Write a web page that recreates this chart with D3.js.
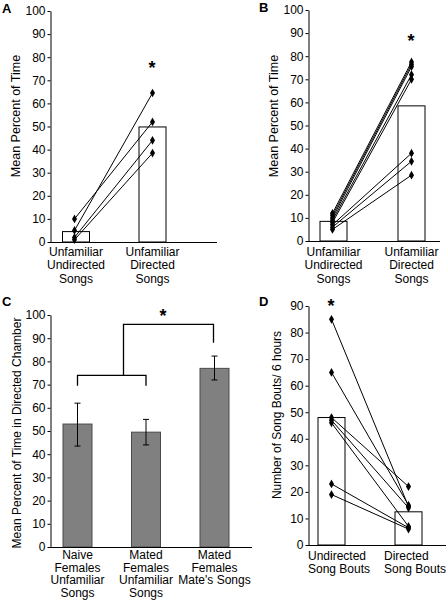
<!DOCTYPE html>
<html><head><meta charset="utf-8">
<script src="https://cdn.jsdelivr.net/npm/d3@7"></script>
<style>body{margin:0;background:#fff} svg{display:block} text{font-family:"Liberation Sans",Arial,sans-serif;fill:#000}</style>
</head><body><svg id="c" width="446" height="601"></svg>
<script>
// ---- Panel A ----
const catsA = ["Unfamiliar\nUndirected\nSongs", "Unfamiliar\nDirected\nSongs"];
const barsA = [4.5, 49.8];
const undirA = [10, 5, 2, 1];
const dirA = [52, 64.5, 44, 38.5];
// ---- Panel B ----
const catsB = ["Unfamiliar\nUndirected\nSongs", "Unfamiliar\nDirected\nSongs"];
const barsB = [8.5, 58.5];
const undirB = [12, 11, 10, 9, 8, 7, 6, 5];
const dirB = [77.5, 76.5, 75.5, 72, 70, 38, 34.5, 28.5];
// ---- Panel C ----
const catsC = ["Naive\nFemales\nUnfamiliar\nSongs", "Mated\nFemales\nUnfamiliar\nSongs", "Mated\nFemales\nMate's Songs"];
const meansC = [53, 49.5, 77];
const lowC = [43.5, 44, 72];
const highC = [62, 55, 82.3];
// ---- Panel D ----
const catsD = ["Undirected\nSong Bouts", "Directed\nSong Bouts"];
const barsD = [48, 12.5];
const undirD = [85, 65, 48, 47, 46, 23, 19];
const dirD = [14.5, 15, 22, 14, 7, 6.5, 6];
// ---- ticks ----
const ticks100 = [0, 10, 20, 30, 40, 50, 60, 70, 80, 90, 100];
const ticks90 = [0, 10, 20, 30, 40, 50, 60, 70, 80, 90];
const titleAB = "Mean Percent of Time";
const titleC = "Mean Percent of Time in Directed Chamber";
const titleD = "Number of Song Bouts/ 6 hours";

const svg = d3.select("#c");
const FONT = 12;

function panel(cfg) {
  const g = svg.append("g");
  const y = d3.scaleLinear().domain(cfg.ydom).range(cfg.yr);
  const x = d3.scalePoint().domain(cfg.cats).range(cfg.xr);
  // bars
  g.selectAll("rect.bar").data(cfg.bars).join("rect")
    .attr("x", (d, i) => x(cfg.cats[i]) - cfg.bw / 2)
    .attr("y", d => y(d))
    .attr("width", cfg.bw)
    .attr("height", d => y(0) - y(d))
    .attr("fill", cfg.fill).attr("stroke", cfg.stroke).attr("stroke-width", 1);
  // x axis line
  g.append("line").attr("x1", cfg.ax).attr("x2", cfg.axEnd)
    .attr("y1", y(0) + 0.5).attr("y2", y(0) + 0.5).attr("stroke", "#000");
  // y axis
  const ya = g.append("g").attr("transform", `translate(${cfg.ax + 0.5},0)`)
    .call(d3.axisLeft(y).tickValues(cfg.ticks).tickSize(3).tickSizeOuter(0).tickPadding(2).tickFormat(d3.format("d")));
  ya.selectAll("text").attr("font-size", FONT).attr("font-family", '"Liberation Sans",Arial,sans-serif').attr("fill", "#000");
  ya.selectAll("line,path").attr("stroke", "#000");
  // category labels
  cfg.cats.forEach((c, i) => {
    const t = g.append("text").attr("font-size", FONT).attr("text-anchor", cfg.labAnchor || "middle");
    c.split("\n").forEach((ln, j) => {
      t.append("tspan").attr("x", x(c) + (cfg.labDx ? cfg.labDx[i] : 0)).attr("y", cfg.labY + j * (cfg.labLH || 13.4)).text(ln);
    });
  });
  // title
  g.append("text").attr("font-size", cfg.titleSize || 12.5).attr("text-anchor", "middle")
    .attr("transform", `translate(${cfg.tx},${cfg.ty}) rotate(-90)`).text(cfg.title);
  // letter
  g.append("text").attr("font-size", 13).attr("font-weight", "bold")
    .attr("x", cfg.lx).attr("y", cfg.ly).text(cfg.letter);
  // star
  if (cfg.star) {
    g.append("text").attr("font-size", 18).attr("font-weight", "bold").attr("text-anchor", "middle")
      .attr("x", cfg.star[0]).attr("y", y(cfg.star[1]) + 10).text("*");
  }
  return {g, x, y};
}

function pairs(p, cats, a, b, dxA, dxB) {
  const line = d3.line();
  a.forEach((v, i) => {
    p.g.append("path").attr("d", line([[p.x(cats[0]) + dxA, p.y(v)], [p.x(cats[1]) + dxB, p.y(b[i])]]))
      .attr("stroke", "#000").attr("stroke-width", 1).attr("fill", "none");
  });
  const sym = d3.symbol().type(d3.symbolDiamond).size(22);
  a.forEach(v => p.g.append("path").attr("d", sym()).attr("transform", `translate(${p.x(cats[0]) + dxA},${p.y(v)})`));
  b.forEach(v => p.g.append("path").attr("d", sym()).attr("transform", `translate(${p.x(cats[1]) + dxB},${p.y(v)})`));
}

// Panel A
const pA = panel({cats: catsA, bars: barsA, ydom: [0, 100], yr: [242, 11], xr: [76, 152.5], bw: 27,
  fill: "#fff", stroke: "#000", ax: 50, axEnd: 217, ticks: ticks100, labY: 256,
  title: titleAB, tx: 20, ty: 116, lx: 2, ly: 13, letter: "A", star: [152, 77]});
pairs(pA, catsA, undirA, dirA, -1.5, 0);

// Panel B
const pB = panel({cats: catsB, bars: barsB, ydom: [0, 100], yr: [241, 10], xr: [333.5, 411.5], bw: 27,
  fill: "#fff", stroke: "#000", ax: 308, axEnd: 440, ticks: ticks100, labY: 256,
  title: titleAB, tx: 278, ty: 116, lx: 259, ly: 12, letter: "B", star: [411, 88.5]});
pairs(pB, catsB, undirB, dirB, -1, 0);

// Panel C
const pC = panel({cats: catsC, bars: meansC, ydom: [0, 100], yr: [547, 315], xr: [77.5, 214.5], bw: 29,
  fill: "#808080", stroke: "#4a4a4a", ax: 50, axEnd: 252, ticks: ticks100, labY: 559, labLH: 12.6,
  title: titleC, tx: 21, ty: 433, titleSize: 12, lx: 2, ly: 306, letter: "C"});
// error bars
meansC.forEach((m, i) => {
  const cx = pC.x(catsC[i]);
  const e = pC.g.append("g").attr("stroke", "#000").attr("stroke-width", 1);
  e.append("line").attr("x1", cx).attr("x2", cx).attr("y1", pC.y(lowC[i])).attr("y2", pC.y(highC[i]));
  e.append("line").attr("x1", cx - 3).attr("x2", cx + 3).attr("y1", pC.y(lowC[i])).attr("y2", pC.y(lowC[i]));
  e.append("line").attr("x1", cx - 3).attr("x2", cx + 3).attr("y1", pC.y(highC[i])).attr("y2", pC.y(highC[i]));
});
// significance bracket
{
  const y = pC.y, x0 = pC.x(catsC[0]), x1 = pC.x(catsC[1]), x2 = pC.x(catsC[2]);
  const xm = 123.5;
  const br = d3.line();
  pC.g.append("path").attr("d", br([[x0, y(69.5)], [x0, y(74)], [x1, y(74)], [x1, y(69.5)]]))
    .attr("fill", "none").attr("stroke", "#000").attr("stroke-width", 1.3);
  pC.g.append("path").attr("d", br([[xm, y(74)], [xm, y(96)], [x2 - 1, y(96)], [x2 - 1, y(88)]]))
    .attr("fill", "none").attr("stroke", "#000").attr("stroke-width", 1.3);
  pC.g.append("text").attr("font-size", 18).attr("font-weight", "bold").attr("text-anchor", "middle")
    .attr("x", 163).attr("y", y(101.5) + 10).text("*");
}

// Panel D
const pD = panel({cats: catsD, bars: barsD, ydom: [0, 90], yr: [545, 306], xr: [331.5, 408.5], bw: 27,
  fill: "#fff", stroke: "#000", ax: 308, axEnd: 446, ticks: ticks90, labY: 560, labAnchor: "start", labDx: [-23.5, -24.5],
  title: titleD, tx: 281, ty: 415, titleSize: 12, lx: 259, ly: 306, letter: "D", star: [331, 91.5]});
pairs(pD, catsD, undirD, dirD, 0, 0);
</script></body></html>
